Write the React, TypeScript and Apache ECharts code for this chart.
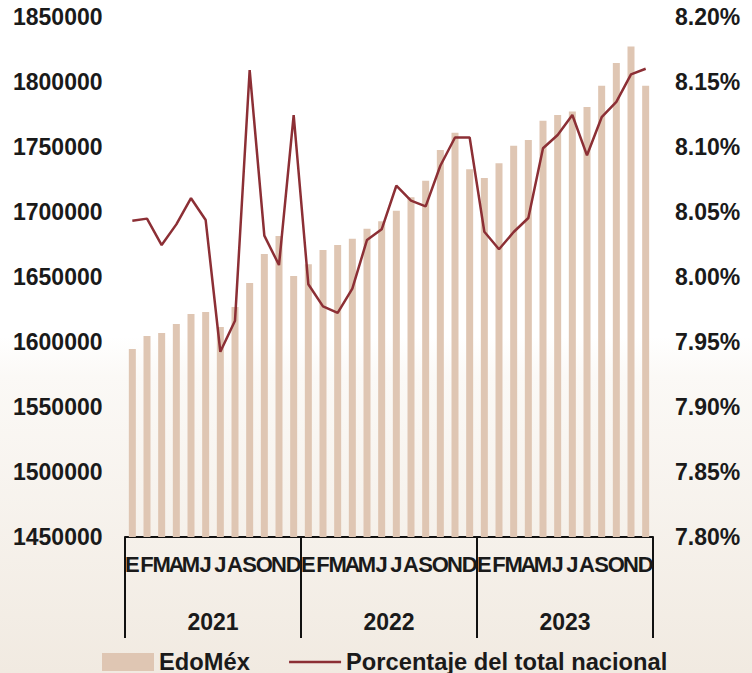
import React, { useEffect, useRef } from "react";
import * as echarts from "echarts";

const monthLabels = ["E", "F", "M", "A", "M", "J", "J", "A", "S", "O", "N", "D",
  "E", "F", "M", "A", "M", "J", "J", "A", "S", "O", "N", "D",
  "E", "F", "M", "A", "M", "J", "J", "A", "S", "O", "N", "D"];
const years = ["2021", "2022", "2023"];
const edomex = [
  1594600, 1604600, 1606900, 1613800, 1621500, 1623100, 1611500, 1626900, 1645400, 1667700, 1681500, 1650800,
  1659800, 1670800, 1674600, 1679500, 1687200, 1692800, 1701000, 1711400, 1724100, 1747700, 1760900, 1732900,
  1726200, 1737500, 1751000, 1755400, 1770200, 1774600, 1777400, 1780700, 1797100, 1814700, 1827400, 1797100,
];
const porcentaje = [
  8.0433, 8.0449, 8.0246, 8.0405, 8.0606, 8.0438, 7.9425, 7.9664, 8.1592, 8.0318, 8.0092, 8.1246,
  7.9944, 7.9774, 7.9724, 7.9911, 8.0285, 8.0367, 8.0702, 8.0587, 8.0543, 8.0856, 8.1073, 8.1073,
  8.0348, 8.0213, 8.0346, 8.0454, 8.099, 8.1092, 8.1246, 8.0936, 8.1229, 8.1347, 8.1559, 8.1602,
];
const leftTicks = { min: 1450000, max: 1850000, interval: 50000 };
const rightTicks = { min: 7.8, max: 8.2, interval: 0.05 };

const FONT = "'Liberation Sans', Arial, sans-serif";
const TXT = "#1a1a1a";
const LINE_COLOR = "#8c2f35";

export default function App() {
  const ref = useRef<HTMLDivElement>(null);
  useEffect(() => {
    if (!ref.current) return;
    const chart = echarts.init(ref.current, null, { renderer: "svg" });
    chart.setOption({
      animation: false,
      backgroundColor: {
        type: "linear", x: 0, y: 0, x2: 0, y2: 1,
        colorStops: [
          { offset: 0, color: "#ffffff" },
          { offset: 0.5, color: "#ffffff" },
          { offset: 0.56, color: "#fbf9f6" },
          { offset: 1, color: "#f1eae1" },
        ],
      },
      grid: { left: 125, right: 99, top: 17, bottom: 136 },
      legend: {
        left: 97,
        top: 645,
        itemGap: 38,
        itemWidth: 52,
        itemHeight: 18,
        textStyle: { fontFamily: FONT, fontSize: 23.7, fontWeight: "bold", color: TXT },
        data: [
          { name: "EdoMéx", icon: "rect" },
          {
            name: "Porcentaje del total nacional",
            itemStyle: { opacity: 0 },
            lineStyle: { color: LINE_COLOR, width: 2.5 },
          },
        ],
      },
      xAxis: [
        {
          type: "category",
          data: monthLabels,
          position: "bottom",
          axisLine: { show: true, lineStyle: { color: "#111", width: 2 } },
          axisTick: { show: false },
          axisLabel: {
            interval: 0,
            margin: 16,
            fontFamily: "'Liberation Sans Narrow', 'Arial Narrow', sans-serif",
            fontSize: 22,
            fontWeight: "bold",
            color: TXT,
          },
          splitLine: { show: false },
        },
        {
          type: "category",
          data: years,
          position: "bottom",
          axisLine: { show: false },
          axisTick: { show: true, length: 101, lineStyle: { color: "#111", width: 2 } },
          axisLabel: {
            interval: 0,
            margin: 73,
            fontFamily: FONT,
            fontSize: 23,
            fontWeight: "bold",
            color: TXT,
          },
          splitLine: { show: false },
        },
      ],
      yAxis: [
        {
          type: "value",
          min: leftTicks.min,
          max: leftTicks.max,
          interval: leftTicks.interval,
          axisLine: { show: false },
          axisTick: { show: false },
          splitLine: { show: false },
          axisLabel: {
            align: "left",
            margin: 112,
            fontFamily: FONT,
            fontSize: 23,
            fontWeight: "bold",
            color: TXT,
            formatter: (v: number) => String(Math.round(v)),
          },
        },
        {
          type: "value",
          position: "right",
          min: rightTicks.min,
          max: rightTicks.max,
          interval: rightTicks.interval,
          axisLine: { show: false },
          axisTick: { show: false },
          splitLine: { show: false },
          axisLabel: {
            margin: 22,
            fontFamily: FONT,
            fontSize: 23,
            fontWeight: "bold",
            color: TXT,
            formatter: (v: number) => v.toFixed(2) + "%",
          },
        },
      ],
      series: [
        {
          name: "EdoMéx",
          type: "bar",
          xAxisIndex: 0,
          yAxisIndex: 0,
          data: edomex,
          barWidth: 7,
          itemStyle: { color: "#dfc6b3" },
        },
        {
          name: "Porcentaje del total nacional",
          type: "line",
          xAxisIndex: 0,
          yAxisIndex: 1,
          data: porcentaje,
          symbol: "none",
          lineStyle: { color: LINE_COLOR, width: 2.5 },
          itemStyle: { color: LINE_COLOR },
        },
      ],
    });
    return () => chart.dispose();
  }, []);
  return (
    <div
      ref={ref}
      style={{ position: "fixed", left: 0, top: 0, width: 752, height: 673 }}
    />
  );
}
